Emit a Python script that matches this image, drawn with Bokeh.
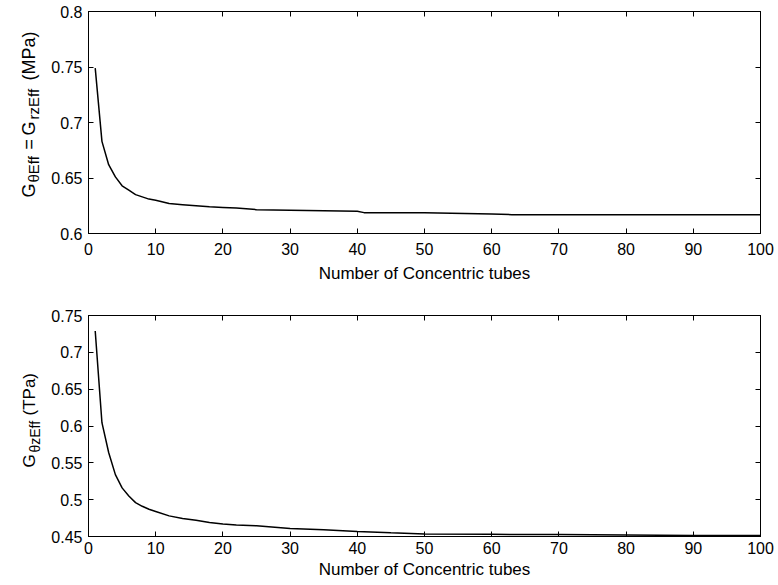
from math import pi
from bokeh.plotting import figure
from bokeh.models import (LinearAxis, FixedTicker, CustomJSTickFormatter,
                          Range1d, ColumnDataSource)
from bokeh.layouts import column, row
from bokeh.core.properties import value
from bokeh.embed import file_html
from bokeh.resources import INLINE

# ---------------- data ----------------
n_tubes = [1, 2, 3, 4, 5, 6, 7, 8, 9, 10, 12, 14, 16, 18, 20, 22, 25, 30, 35,
           40, 41, 45, 50, 60, 63, 70, 80, 90, 100]
g_theta_eff = [0.749, 0.683, 0.662, 0.651, 0.643, 0.639, 0.635, 0.633, 0.631,
               0.630, 0.627, 0.626, 0.625, 0.624, 0.6235, 0.623, 0.6215, 0.621,
               0.6205, 0.620, 0.6188, 0.6187, 0.6187, 0.6175, 0.617, 0.617,
               0.617, 0.617, 0.617]
g_thetaz_eff = [0.729, 0.6045, 0.564, 0.534, 0.516, 0.505, 0.496, 0.491, 0.487,
                0.484, 0.478, 0.4745, 0.472, 0.469, 0.467, 0.4655, 0.4645,
                0.461, 0.459, 0.4568, 0.4565, 0.455, 0.4535, 0.453, 0.4528,
                0.4527, 0.4522, 0.4515, 0.4512]

x_ticks = [0, 10, 20, 30, 40, 50, 60, 70, 80, 90, 100]
top_y_ticks = [0.6, 0.65, 0.7, 0.75, 0.8]
bottom_y_ticks = [0.45, 0.5, 0.55, 0.6, 0.65, 0.7, 0.75]
x_label = "Number of Concentric tubes"
top_y_label = [("G", "main"), ("θEff", "sub"), ("=", "main"), ("G", "main"),
               ("rzEff", "sub"), ("(MPa)", "main")]
bottom_y_label = [("G", "main"), ("θzEff", "sub"), ("(TPa)", "main")]

FONT = "Liberation Sans"
LABEL_W = 48           # width of the strip that carries the rotated y label
MAIN_BORDER_LEFT = 40  # frame left edge at LABEL_W + 40 = 88 px
y_fmt = CustomJSTickFormatter(code="return String(parseFloat(tick.toFixed(2)));")
blank_fmt = CustomJSTickFormatter(code="return '';")


def style_axis(ax, ticks, fmt=None, show_labels=True, standoff=5, label_standoff=4):
    ax.ticker = FixedTicker(ticks=ticks)
    if fmt is not None:
        ax.formatter = fmt
    ax.axis_line_color = "black"
    ax.axis_line_width = 1
    ax.major_tick_in = 5
    ax.major_tick_out = 0
    ax.major_tick_line_color = "black"
    ax.minor_tick_line_color = None
    ax.major_label_text_font = FONT
    ax.major_label_text_color = "black"
    ax.axis_label_text_font = FONT
    ax.axis_label_text_font_style = "normal"
    ax.axis_label_text_color = "black"
    ax.axis_label_text_font_size = "17px"
    ax.axis_label_standoff = label_standoff
    if show_labels:
        ax.major_label_text_font_size = "16px"
        ax.major_label_standoff = standoff
    else:
        ax.major_label_text_font_size = "0px"
        ax.major_label_standoff = 0


def make_fig(height, b_top, b_bottom, y_lo, y_hi, y_ticks, y_vals,
             tick_standoff, label_standoff):
    p = figure(width=776 - LABEL_W, height=height, output_backend="svg",
               toolbar_location=None,
               x_range=Range1d(0, 100), y_range=Range1d(y_lo, y_hi),
               min_border_left=MAIN_BORDER_LEFT, min_border_right=16,
               min_border_top=b_top, min_border_bottom=b_bottom)
    p.grid.visible = False
    p.outline_line_color = "black"
    p.outline_line_width = 1
    p.background_fill_color = "white"
    p.border_fill_color = "white"
    style_axis(p.xaxis[0], x_ticks, standoff=tick_standoff,
               label_standoff=label_standoff)
    p.xaxis[0].axis_label = x_label
    style_axis(p.yaxis[0], y_ticks, fmt=y_fmt, standoff=6)
    top = LinearAxis()
    style_axis(top, x_ticks, fmt=blank_fmt, show_labels=False)
    p.add_layout(top, "above")
    right = LinearAxis()
    style_axis(right, y_ticks, fmt=blank_fmt, show_labels=False)
    p.add_layout(right, "right")
    src = ColumnDataSource(dict(x=n_tubes, y=y_vals))
    p.line("x", "y", source=src, line_color="black", line_width=1.5)
    return p


def make_label_strip(height, b_top, b_bottom, parts, starts, main_bx, sub_bx,
                     main_size, sub_size):
    """Narrow canvas left of the plot.  In a row its frame is aligned with the
    plot frame, so x/y are px relative to the plot frame's bottom-left corner."""
    left = -(LABEL_W + MAIN_BORDER_LEFT)
    frame_h = height - b_top - b_bottom
    lf = figure(width=LABEL_W, height=height, output_backend="svg",
                toolbar_location=None,
                x_range=Range1d(left, left + LABEL_W),
                y_range=Range1d(0, frame_h),
                min_border_left=0, min_border_right=0,
                min_border_top=b_top, min_border_bottom=b_bottom,
                x_axis_location=None, y_axis_location=None)
    lf.grid.visible = False
    lf.outline_line_color = None
    lf.background_fill_color = "white"
    lf.border_fill_color = "white"
    xs, ys, txt, sizes = [], [], [], []
    for (t, kind), s in zip(parts, starts):
        xs.append(main_bx if kind == "main" else sub_bx)
        ys.append(s)
        txt.append(t)
        sizes.append(main_size if kind == "main" else sub_size)
    src = ColumnDataSource(dict(x=xs, y=ys, text=txt, size=sizes))
    lf.text("x", "y", text="text", source=src, angle=pi / 2,
            text_align="left", text_baseline="alphabetic",
            text_font=value(FONT), text_font_size="size", text_color="black")
    return lf


H1, B1_TOP, B1_BOT = 300, 11, 67
H2, B2_TOP, B2_BOT = 283, 15, 47

p1 = make_fig(H1, B1_TOP, B1_BOT, 0.6, 0.8, top_y_ticks, g_theta_eff, 9, 6)
l1 = make_label_strip(H1, B1_TOP, B1_BOT, top_y_label,
                      [36, 51, 84, 98, 114, 153], -60, -55, "18px", "15px")

p2 = make_fig(H2, B2_TOP, B2_BOT, 0.45, 0.75, bottom_y_ticks, g_thetaz_eff, 5, 3)
l2 = make_label_strip(H2, B2_TOP, B2_BOT, bottom_y_label, [69, 84, 121],
                      -59, -54, "17px", "14px")

layout = column(row(l1, p1, spacing=0), row(l2, p2, spacing=0), spacing=0)
open("out.html", "w").write(file_html(layout, INLINE))
